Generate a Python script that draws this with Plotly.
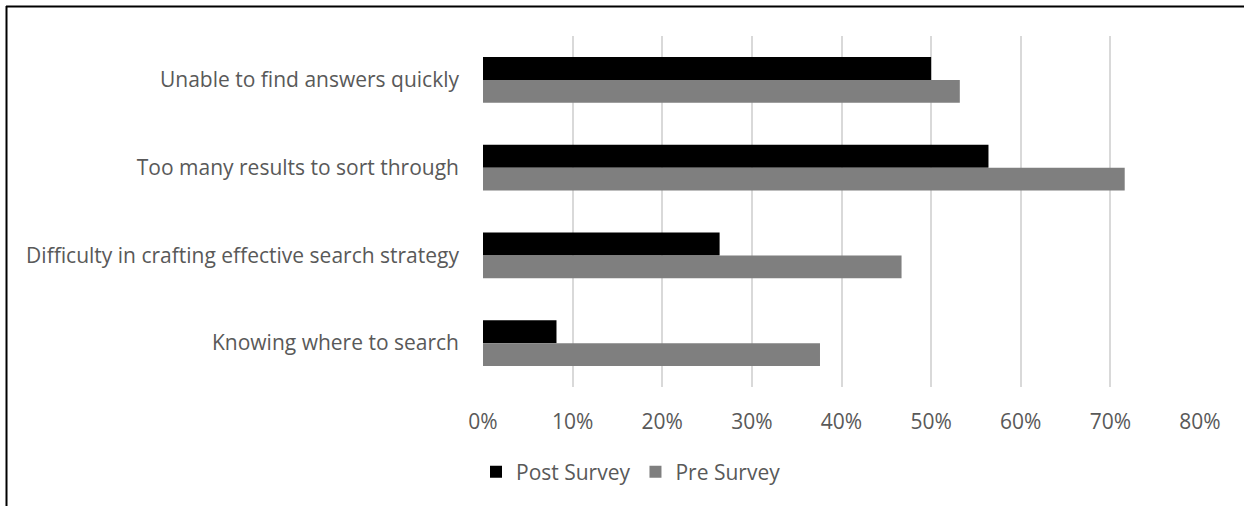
import plotly.graph_objects as go

# Survey responses: share of respondents reporting each search difficulty
categories = [
    "Unable to find answers quickly",
    "Too many results to sort through",
    "Difficulty in crafting effective search strategy",
    "Knowing where to search",
]
post_survey = [0.500, 0.564, 0.264, 0.082]
pre_survey = [0.532, 0.716, 0.467, 0.376]
x_ticks = [0, 0.1, 0.2, 0.3, 0.4, 0.5, 0.6, 0.7, 0.8]
x_tick_labels = ["0%", "10%", "20%", "30%", "40%", "50%", "60%", "70%", "80%"]

FONT = "Open Sans, Calibri, sans-serif"
TEXT = "#595959"
FS = 21

fig = go.Figure()
fig.add_trace(go.Bar(
    name="Post Survey", y=categories, x=post_survey, orientation="h",
    marker=dict(color="#000000", line=dict(width=0)),
))
fig.add_trace(go.Bar(
    name="Pre Survey", y=categories, x=pre_survey, orientation="h",
    marker=dict(color="#7f7f7f", line=dict(width=0)),
))

W, H = 1244, 506
L, R, T, B = 483, 44, 36, 119
pw, ph = W - L - R, H - T - B

def px_x(x):
    return (x - L) / pw

def px_y(y):
    return (H - B - y) / ph

# Outer frame (top and left edges)
frame = dict(color="#000000", width=2)
fig.add_shape(type="line", xref="paper", yref="paper",
              x0=px_x(6), x1=px_x(W + 2), y0=px_y(6.5), y1=px_y(6.5), line=frame)
fig.add_shape(type="line", xref="paper", yref="paper",
              x0=px_x(6.5), x1=px_x(6.5), y0=px_y(6), y1=px_y(H + 2), line=frame)

fig.update_layout(
    width=W, height=H,
    margin=dict(l=L, r=R, t=T, b=B, pad=0),
    paper_bgcolor="white", plot_bgcolor="white",
    barmode="group", bargap=0.476, bargroupgap=0,
    font=dict(family=FONT, size=FS, color=TEXT),
    showlegend=True,
    legend=dict(
        orientation="h", x=px_x(476), xanchor="left",
        y=px_y(472), yanchor="middle",
        font=dict(family=FONT, size=FS, color=TEXT),
        traceorder="normal", itemclick=False,
    ),
    xaxis=dict(
        range=[0, 0.8], tickvals=x_ticks, ticktext=x_tick_labels,
        showgrid=True, gridcolor="#d9d9d9", gridwidth=2,
        zeroline=False, showline=False, ticks="",
        ticklabelstandoff=20,
        tickfont=dict(family=FONT, size=FS, color=TEXT),
    ),
    yaxis=dict(
        autorange="reversed", showgrid=False, zeroline=False,
        showline=False, ticks="", ticklabelstandoff=23,
        tickfont=dict(family=FONT, size=FS, color=TEXT),
    ),
)

fig.write_html("out.html")
